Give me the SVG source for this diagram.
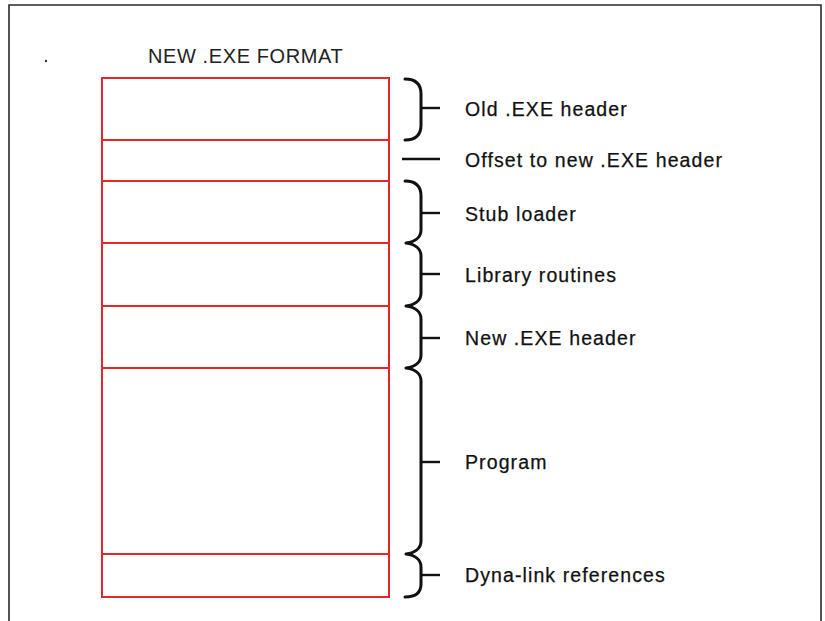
<svg xmlns="http://www.w3.org/2000/svg" width="825" height="621" viewBox="0 0 825 621">
<style>
.frame{fill:none;stroke:#2a2a2a;stroke-width:1.6}
.cell{fill:#ffffff;stroke:#e5262b;stroke-width:2}
.brace{fill:none;stroke:#111;stroke-width:3;stroke-linecap:round;stroke-linejoin:round}
.tick{stroke:#111;stroke-width:2.4}
.lbl{font-family:"Liberation Sans",Arial,sans-serif;font-size:19.5px;letter-spacing:1.1px;fill:#111;stroke:#111;stroke-width:0.25}
.title{font-family:"Liberation Sans",Arial,sans-serif;font-size:20px;letter-spacing:0.6px;fill:#222}
</style>
<rect width="825" height="621" fill="#ffffff"/>
<g id="frame">
<path class="frame" d="M9 625 L9 5 L821 5 L821 625"/>
<circle cx="46" cy="61" r="1.2" fill="#333"/>
</g>
<text class="title" x="148" y="62.5">NEW .EXE FORMAT</text>
<g id="old-exe-header"><rect class="cell" x="102" y="78" width="287" height="62"/></g>
<g id="offset"><rect class="cell" x="102" y="140" width="287" height="41"/></g>
<g id="stub-loader"><rect class="cell" x="102" y="181" width="287" height="62"/></g>
<g id="library-routines"><rect class="cell" x="102" y="243" width="287" height="63"/></g>
<g id="new-exe-header"><rect class="cell" x="102" y="306" width="287" height="62"/></g>
<g id="program"><rect class="cell" x="102" y="368" width="287" height="186"/></g>
<g id="dyna-link"><rect class="cell" x="102" y="554" width="287" height="43"/></g>
<g id="connectors">
<path class="brace" d="M405 79 C416 79 421 84 421 94 L421 125 C421 135 416 140 405 140"/>
<line class="tick" x1="421" y1="108" x2="440" y2="108"/>
<line class="tick" x1="402" y1="159" x2="440" y2="159"/>
<path class="brace" d="M405 181 C416 181 421 186 421 196 L421 230 C421 238 414 242 406 243 C414 244 421 248 421 256 L421 293 C421 301 414 305 406 306 C414 307 421 311 421 319 L421 355 C421 363 414 367 406 368 C414 369 421 373 421 381 L421 541 C421 549 414 553 406 554 C414 555 421 559 421 567 L421 584 C421 592 416 597 405 597"/>
<line class="tick" x1="421" y1="213" x2="440" y2="213"/>
<line class="tick" x1="421" y1="274" x2="440" y2="274"/>
<line class="tick" x1="421" y1="338" x2="440" y2="338"/>
<line class="tick" x1="421" y1="462" x2="440" y2="462"/>
<line class="tick" x1="421" y1="575" x2="440" y2="575"/>
</g>
<g id="labels">
<text class="lbl" x="465" y="115.5">Old .EXE header</text>
<text class="lbl" x="465" y="166.5">Offset to new .EXE header</text>
<text class="lbl" x="465" y="220.5">Stub loader</text>
<text class="lbl" x="465" y="281.5">Library routines</text>
<text class="lbl" x="465" y="345">New .EXE header</text>
<text class="lbl" x="465" y="469">Program</text>
<text class="lbl" x="465" y="582">Dyna-link references</text>
</g>
</svg>
